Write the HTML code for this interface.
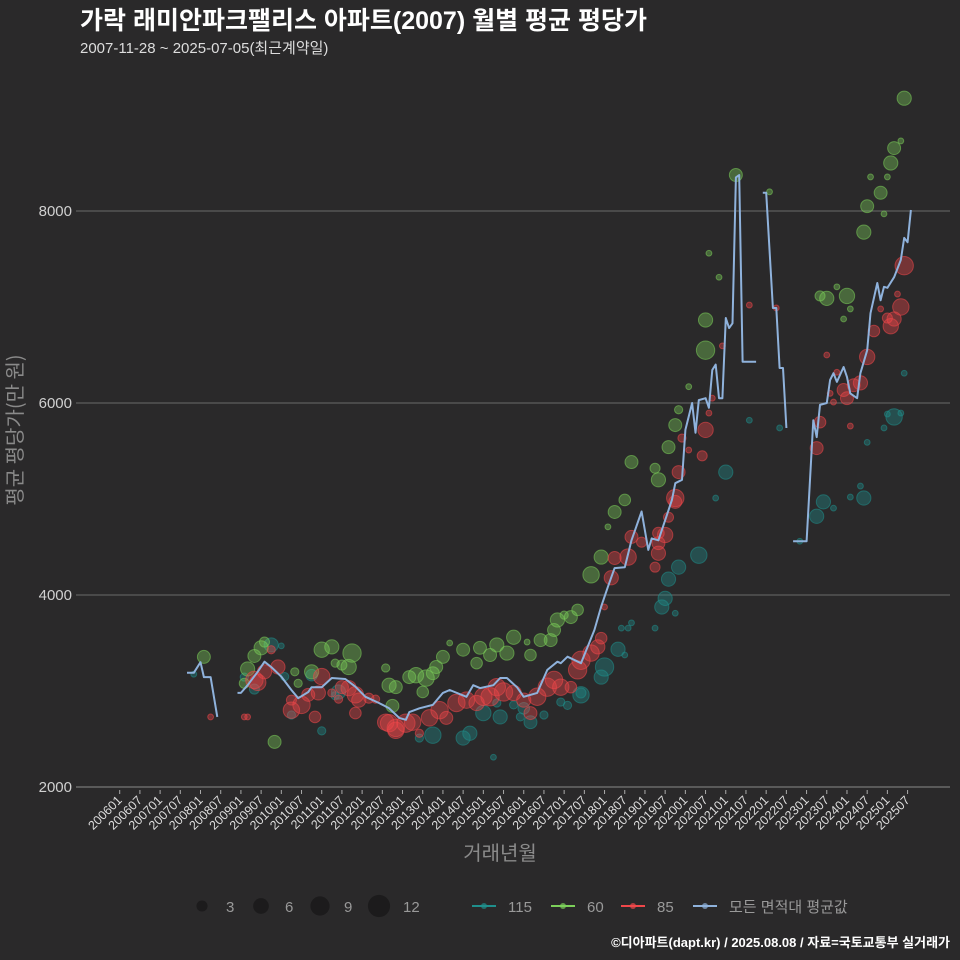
<!DOCTYPE html>
<html><head><meta charset="utf-8">
<style>
html,body{margin:0;padding:0;background:#2a292a;}
svg{display:block;font-family:"Liberation Sans","Noto Sans CJK KR",sans-serif;}
</style></head>
<body>
<svg id="chart" width="960" height="960" viewBox="0 0 960 960">
<rect x="0" y="0" width="960" height="960" fill="#2a292a"/>
<text x="80" y="29" fill="#ffffff" font-size="25" font-weight="bold">가락 래미안파크팰리스 아파트(2007) 월별 평균 평당가</text>
<text x="80" y="53" fill="#dddddd" font-size="15">2007-11-28 ~ 2025-07-05(최근계약일)</text>
<g id="grid"></g>
<g id="yticks"></g>
<g id="xticks"></g>
<g id="points"></g>
<g id="lines"></g>
<text transform="translate(22,430) rotate(-90)" text-anchor="middle" fill="#8a8a8a" font-size="20" style="font-family:'Noto Sans CJK KR',sans-serif">평균 평당가(만 원)</text>
<text x="500" y="860" text-anchor="middle" fill="#8a8a8a" font-size="20">거래년월</text>
<g id="legend"></g>
<text x="950" y="947" text-anchor="end" fill="#ffffff" font-size="13" font-weight="bold">©디아파트(dapt.kr) / 2025.08.08 / 자료=국토교통부 실거래가</text>
</svg>
<script>
// ---- data (month index: months since 2006-01) ----
const yTicks = [2000, 4000, 6000, 8000];
const xTickLabels = [];
for (let y = 2006; y <= 2025; y++) { xTickLabels.push(y + "01"); xTickLabels.push(y + "07"); }

const lineMonths = [20,22,24,25,27,29,null,35,36,38,41,43,45,48,51,53,56,57,60,63,67,70,73,77,80,83,85,86,89,93,96,98,103,105,107,111,113,115,118,120,124,127,130,131,133,137,141,143,145,147,150,152,155,157,158,160,162,164,165,167,168,170,171,172,174,175,176,177,178,179,180,181,182,183,184,185,189,null,191,192,194,195,196,197,198,null,200,204,206,207,208,210,211,212,213,215,216,217,219,220,222,223,225,226,227,228,230,232,233,234,235];
const lineValues = [3190,3190,3300,3145,3145,2730,null,2980,2980,3060,3200,3305,3250,3150,3010,2925,2990,3040,3040,3135,3125,3045,2940,2875,2820,2720,2700,2780,2820,2855,2980,3010,2940,3060,3030,3060,3135,3135,3040,2940,2980,3220,3305,3290,3357,3290,3635,3880,4085,4280,4290,4570,4870,4470,4590,4570,4780,4990,5165,5200,5720,6000,5690,6030,6050,5950,6345,6400,6050,6050,6885,6780,6830,8350,8375,6430,6430,null,8190,8190,6990,6990,6365,6365,5740,null,4560,4560,5820,5645,5980,6000,6240,6310,6220,6375,6270,6100,6050,6310,6550,6935,7250,7070,7210,7200,7310,7490,7720,7675,8010];

const redMonths = [27,37,38,40,41,43,47,45,51,51,54,56,58,59,60,63,65,66,68,70,71,70,74,76,80,82,79,82,85,87,89,92,95,97,100,103,106,108,110,112,114,117,120,122,124,127,129,131,134,136,137,140,142,143,144,146,147,151,152,155,160,160,160,159,162,163,165,165,166,167,169,173,174,175,176,179,187,195,207,208,210,211,212,213,215,216,217,218,220,222,224,226,228,229,230,231,232,233];
const redValues = [2730,2730,2730,3115,3090,3200,3250,3430,2905,2800,2855,2960,2730,2980,3150,2980,2915,3040,3030,2960,2905,2770,2925,2915,2665,2615,2675,2590,2665,2675,2560,2720,2800,2720,2875,2905,2875,2940,2940,3040,2990,2980,2905,2770,2940,3040,3115,3040,3040,3220,3320,3395,3460,3550,3875,4180,4385,4395,4605,4550,4540,4435,4645,4290,4625,4810,4970,5010,5280,5635,5510,5450,5720,5895,6050,6595,7020,6990,5530,5800,6500,6100,6010,6320,6135,6050,5760,6185,6210,6480,6750,6980,6885,6800,6875,7135,7000,7430];
const redCounts = [1,1,1,9,8,6,6,2,3,8,9,5,4,6,8,2,2,5,7,8,6,4,3,2,9,9,8,8,10,8,2,8,9,5,9,8,7,9,10,9,10,7,6,5,9,10,9,8,4,10,10,8,6,4,1,6,5,8,5,3,5,6,4,3,7,3,5,9,5,2,1,3,7,1,1,1,1,1,5,4,1,1,1,1,5,5,1,5,6,7,4,1,3,7,6,1,8,10];

const greenMonths = [25,38,40,42,43,37,46,52,53,57,60,63,64,66,68,69,79,80,82,81,86,88,91,93,90,94,96,98,102,106,107,110,112,115,117,121,122,125,128,129,130,132,134,136,140,143,145,147,150,152,159,160,163,165,166,169,174,174,175,178,183,193,208,210,213,216,217,215,221,222,223,226,227,228,229,230,232,233];
const greenValues = [3355,3230,3365,3450,3510,3080,2470,3200,3080,3200,3430,3460,3290,3270,3250,3395,3240,3060,3040,2845,3145,3165,3135,3185,2990,3250,3355,3500,3430,3290,3450,3375,3480,3395,3560,3510,3375,3530,3530,3635,3740,3790,3770,3845,4210,4395,4710,4865,4990,5385,5320,5200,5540,5770,5930,6170,6550,6865,7560,7310,8375,8200,7115,7090,7210,7115,6980,6875,7780,8050,8355,8190,7970,8355,8500,8655,8730,9175];
const greenCounts = [5,6,5,6,3,3,5,2,2,6,7,6,2,3,7,10,2,6,5,5,5,7,8,5,4,5,5,1,5,4,5,5,6,6,6,1,4,5,5,5,6,2,5,4,8,6,1,5,4,5,3,6,5,5,2,1,10,6,1,1,5,1,3,6,1,7,1,1,6,5,1,5,1,1,6,5,1,6];

const tealMonths = [22,37,40,45,48,49,51,57,60,65,64,89,93,102,104,108,111,112,113,117,120,119,122,126,131,133,137,137,143,144,150,148,149,151,152,159,161,162,165,163,166,172,180,177,187,196,202,207,209,212,217,220,221,222,227,228,230,232,233];
const tealValues = [3175,3145,3020,3480,3470,3150,2750,3165,2585,2990,2950,2510,2540,2510,2560,2770,2310,2875,2730,2855,2820,2730,2675,2750,2885,2850,2980,2960,3145,3250,3375,3435,3655,3655,3710,3655,3875,3965,3810,4165,4290,4415,5280,5010,5820,5740,4560,4820,4970,4905,5020,5135,5010,5590,5740,5885,5855,5895,6310];
const tealCounts = [1,2,3,6,1,2,2,4,2,6,2,2,8,6,6,7,1,2,6,2,4,2,5,2,2,2,3,8,6,10,1,6,1,1,1,1,6,6,1,6,6,8,6,1,1,1,1,6,6,1,1,1,6,1,1,1,8,1,1];

const legendSizes = [3, 6, 9, 12];
const legendSeries = ["115", "60", "85", "모든 면적대 평균값"];

// ---- scales ----
const X0 = 119.7, XM = 3.367;
function xScale(m) { return X0 + m * XM; }
function yScale(v) { return 787 - (v - 2000) * 0.096; }
function rScale(c) { return 2.9 * Math.sqrt(c); }
function rLegend(c) { return 3.2 * Math.sqrt(c); }
const NS = "http://www.w3.org/2000/svg";
function mk(tag, attrs, parent) {
  const e = document.createElementNS(NS, tag);
  for (const k in attrs) e.setAttribute(k, attrs[k]);
  parent.appendChild(e); return e;
}

// grid
const grid = document.getElementById("grid");
const yt = document.getElementById("yticks");
yTicks.forEach(v => {
  const ln = mk("line", {x1: 76, x2: 950, y1: yScale(v), y2: yScale(v), stroke: v === 2000 ? "#5a5a5a" : "#6a6a6a", "stroke-width": v === 2000 ? 2 : 1}, grid);
  
  
  const t = mk("text", {x: 72, y: yScale(v) + 5, "text-anchor": "end", fill: "#d0d0d0", "font-size": 15}, yt);
  t.textContent = v;
  
  
});

// x ticks
const xt = document.getElementById("xticks");
xTickLabels.forEach((lab, i) => {
  const m = i * 6, x = xScale(m);
  const tk = mk("line", {x1: x, x2: x, y1: 790, y2: 794, stroke: "#aaaaaa", "stroke-width": 1}, xt);
  
  
  const t = mk("text", {x: x + 3, y: 801, "text-anchor": "end", fill: "#dddddd", "font-size": 12.5, transform: `rotate(-45 ${x + 3} 801)`}, xt);
  t.textContent = lab;
  
  
});

// points
const pts = document.getElementById("points");
function drawSeries(months, values, counts, color, name) {
  months.forEach((m, i) => {
    const c = mk("circle", {cx: xScale(m), cy: yScale(values[i]), r: rScale(counts[i]), fill: color, "fill-opacity": 0.38, stroke: color, "stroke-opacity": 0.55, "stroke-width": 1}, pts);
    
    
  });
}
drawSeries(tealMonths, tealValues, tealCounts, "#1f8f8c", "point-115");
drawSeries(greenMonths, greenValues, greenCounts, "#7cd05a", "point-60");
drawSeries(redMonths, redValues, redCounts, "#f0474a", "point-85");

// line
const lg = document.getElementById("lines");
let d = "", pen = false;
lineMonths.forEach((m, i) => {
  if (m === null || lineValues[i] === null) { pen = false; return; }
  d += (pen ? "L" : "M") + xScale(m).toFixed(1) + " " + yScale(lineValues[i]).toFixed(1) + " ";
  pen = true;
});
const path = mk("path", {d: d, fill: "none", stroke: "#8fb2dc", "stroke-width": 2, "stroke-linejoin": "round"}, lg);



// legend
const leg = document.getElementById("legend");
const sizeX = [202, 261, 320, 379];
legendSizes.forEach((s, i) => {
  const c = mk("circle", {cx: sizeX[i], cy: 906, r: rLegend(s), fill: "#1c1b1c"}, leg);
  
  
  const t = mk("text", {x: sizeX[i] + 24, y: 912, fill: "#999999", "font-size": 15}, leg);
  t.textContent = s;
  
  
});
const serX = [472, 551, 621, 693];
const serC = ["#1f8f8c", "#7cd05a", "#f0474a", "#8fb2dc"];
legendSeries.forEach((s, i) => {
  const ln = mk("line", {x1: serX[i], x2: serX[i] + 24, y1: 906, y2: 906, stroke: serC[i], "stroke-width": 2}, leg);
  
  
  const c = mk("circle", {cx: serX[i] + 12, cy: 906, r: 3, fill: serC[i], "fill-opacity": 0.7}, leg);
  
  
  const t = mk("text", {x: serX[i] + 36, y: 912, fill: "#999999", "font-size": 15}, leg);
  t.textContent = s;
  
  
});
</script>
</body></html>
